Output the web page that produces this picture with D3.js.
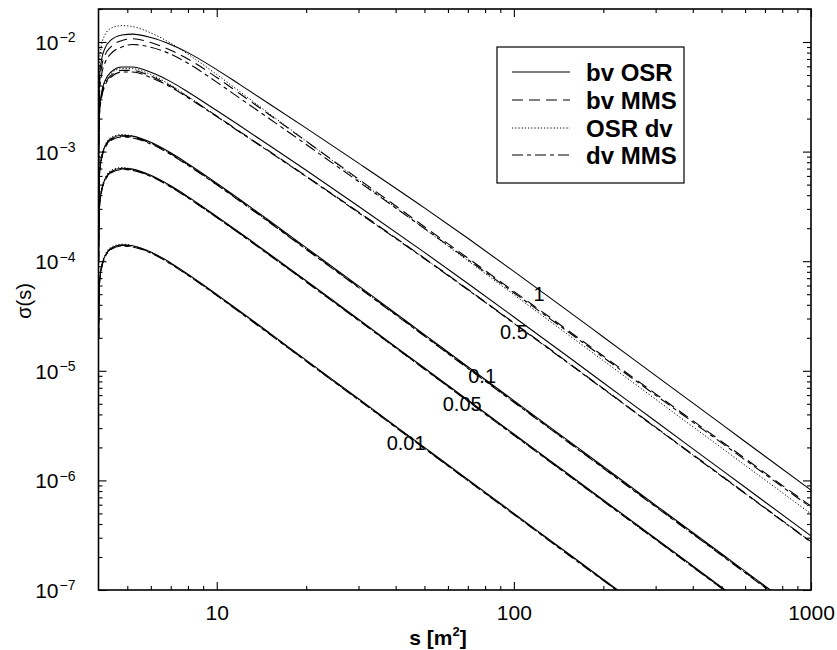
<!DOCTYPE html>
<html>
<head>
<meta charset="utf-8">
<script src="https://cdn.jsdelivr.net/npm/d3@7"></script>
<style>
  html, body { margin: 0; padding: 0; background: #fff; }
  svg { display: block; font-family: "Liberation Sans", Arial, Helvetica, sans-serif; }
</style>
</head>
<body>
<svg id="chart" width="837" height="650"></svg>
<script>
// ---------------- DATA ----------------
const sValues = [4.005, 4.03, 4.1, 4.2, 4.4, 4.8, 5.2, 6, 7, 8, 10, 12, 15, 20, 30, 50, 70, 100, 150, 200, 300, 500, 700, 1000];

const models = ["bv OSR", "bv MMS", "OSR dv", "dv MMS"];
const groupLabels = ["1", "0.5", "0.1", "0.05", "0.01"];

// group "1"
const g1_bvOSR = [1.6e-3, 4.8e-3, 7.0e-3, 8.7e-3, 1.04e-2, 1.16e-2, 1.18e-2, 1.1e-2, 9.5e-3, 8.0e-3, 5.6e-3, 4.063e-3, 2.737e-3, 1.636e-3, 7.85e-4, 3.067e-4, 1.618e-4, 8.07e-5, 3.617e-5, 2.035e-5, 9.04e-6, 3.26e-6, 1.662e-6, 8.15e-7];
const g1_bvMMS = [1.3e-3, 4.0e-3, 6.0e-3, 7.5e-3, 9.0e-3, 1.03e-2, 1.07e-2, 9.9e-3, 8.4e-3, 7.0e-3, 4.75e-3, 3.35e-3, 2.18e-3, 1.245e-3, 5.62e-4, 2.065e-4, 1.068e-4, 5.31e-5, 2.4e-5, 1.365e-5, 6.16e-6, 2.265e-6, 1.17e-6, 5.83e-7];
const g1_OSRdv = [2.2e-3, 6.5e-3, 9.5e-3, 1.15e-2, 1.33e-2, 1.41e-2, 1.385e-2, 1.21e-2, 9.75e-3, 7.75e-3, 5.05e-3, 3.5e-3, 2.23e-3, 1.248e-3, 5.5e-4, 1.98e-4, 1.01e-4, 4.95e-5, 2.2e-5, 1.238e-5, 5.5e-6, 1.98e-6, 1.01e-6, 4.95e-7];
const g1_dvMMS = [1.1e-3, 3.4e-3, 5.1e-3, 6.4e-3, 7.8e-3, 9.0e-3, 9.5e-3, 8.95e-3, 7.75e-3, 6.4e-3, 4.3e-3, 3.05e-3, 2.005e-3, 1.161e-3, 5.33e-4, 1.988e-4, 1.035e-4, 5.16e-5, 2.33e-5, 1.326e-5, 5.99e-6, 2.2e-6, 1.138e-6, 5.66e-7];

// group "0.5"
const g05_bvOSR = [8e-4, 2.4e-3, 3.5e-3, 4.4e-3, 5.3e-3, 5.92e-3, 5.92e-3, 5.3e-3, 4.35e-3, 3.5e-3, 2.37e-3, 1.71e-3, 1.142e-3, 6.75e-4, 3.17e-4, 1.204e-4, 6.26e-5, 3.1e-5, 1.385e-5, 7.79e-6, 3.46e-6, 1.247e-6, 6.36e-7, 3.12e-7];
const g05_bvMMS = [7.44e-4, 2.23e-3, 3.26e-3, 4.09e-3, 4.93e-3, 5.51e-3, 5.51e-3, 4.88e-3, 3.96e-3, 3.15e-3, 2.11e-3, 1.513e-3, 1.011e-3, 5.97e-4, 2.81e-4, 1.066e-4, 5.54e-5, 2.74e-5, 1.226e-5, 6.89e-6, 3.06e-6, 1.104e-6, 5.63e-7, 2.76e-7];
const g05_OSRdv = [7.76e-4, 2.33e-3, 3.4e-3, 4.27e-3, 5.14e-3, 5.74e-3, 5.71e-3, 5.04e-3, 4.05e-3, 3.19e-3, 2.11e-3, 1.505e-3, 1.005e-3, 5.94e-4, 2.79e-4, 1.06e-4, 5.51e-5, 2.73e-5, 1.219e-5, 6.86e-6, 3.04e-6, 1.097e-6, 5.6e-7, 2.75e-7];
const g05_dvMMS = [7.2e-4, 2.16e-3, 3.15e-3, 3.96e-3, 4.77e-3, 5.33e-3, 5.33e-3, 4.74e-3, 3.87e-3, 3.1e-3, 2.086e-3, 1.496e-3, 9.99e-4, 5.91e-4, 2.77e-4, 1.054e-4, 5.48e-5, 2.71e-5, 1.212e-5, 6.82e-6, 3.03e-6, 1.091e-6, 5.57e-7, 2.73e-7];

// group "0.1"
const g01_bvOSR = [2.0e-4, 6.3e-4, 9.0e-4, 1.1e-3, 1.31e-3, 1.41e-3, 1.383e-3, 1.216e-3, 9.75e-4, 7.76e-4, 5.15e-4, 3.64e-4, 2.35e-4, 1.33e-4, 5.95e-5, 2.14e-5, 1.09e-5, 5.35e-6, 2.38e-6, 1.34e-6, 5.95e-7, 2.14e-7, 1.09e-7, 5.35e-8];
const g01_bvMMS = [1.96e-4, 6.17e-4, 8.82e-4, 1.078e-3, 1.284e-3, 1.382e-3, 1.355e-3, 1.192e-3, 9.56e-4, 7.6e-4, 5.05e-4, 3.57e-4, 2.3e-4, 1.3e-4, 5.83e-5, 2.1e-5, 1.07e-5, 5.24e-6, 2.33e-6, 1.31e-6, 5.83e-7, 2.1e-7, 1.07e-7, 5.24e-8];
const g01_OSRdv = [2.1e-4, 6.55e-4, 9.3e-4, 1.135e-3, 1.345e-3, 1.43e-3, 1.39e-3, 1.205e-3, 9.56e-4, 7.56e-4, 5.0e-4, 3.53e-4, 2.28e-4, 1.29e-4, 5.77e-5, 2.08e-5, 1.057e-5, 5.19e-6, 2.31e-6, 1.3e-6, 5.77e-7, 2.08e-7, 1.057e-7, 5.19e-8];
const g01_dvMMS = [1.93e-4, 6.08e-4, 8.69e-4, 1.062e-3, 1.264e-3, 1.36e-3, 1.335e-3, 1.173e-3, 9.41e-4, 7.49e-4, 4.97e-4, 3.51e-4, 2.27e-4, 1.28e-4, 5.74e-5, 2.07e-5, 1.052e-5, 5.16e-6, 2.3e-6, 1.29e-6, 5.74e-7, 2.07e-7, 1.052e-7, 5.16e-8];

// group "0.05"
const g005_bvOSR = [1.0e-4, 3.15e-4, 4.5e-4, 5.5e-4, 6.55e-4, 7.05e-4, 6.92e-4, 6.08e-4, 4.87e-4, 3.88e-4, 2.56e-4, 1.81e-4, 1.17e-4, 6.63e-5, 2.95e-5, 1.06e-5, 5.41e-6, 2.65e-6, 1.18e-6, 6.63e-7, 2.95e-7, 1.06e-7, 5.41e-8, 2.65e-8];
const g005_bvMMS = [9.85e-5, 3.1e-4, 4.43e-4, 5.42e-4, 6.45e-4, 6.94e-4, 6.82e-4, 5.99e-4, 4.8e-4, 3.82e-4, 2.52e-4, 1.78e-4, 1.15e-4, 6.53e-5, 2.91e-5, 1.044e-5, 5.33e-6, 2.61e-6, 1.16e-6, 6.53e-7, 2.91e-7, 1.044e-7, 5.33e-8, 2.61e-8];
const g005_OSRdv = [1.04e-4, 3.25e-4, 4.64e-4, 5.66e-4, 6.72e-4, 7.15e-4, 6.92e-4, 6.0e-4, 4.78e-4, 3.8e-4, 2.5e-4, 1.77e-4, 1.145e-4, 6.5e-5, 2.89e-5, 1.04e-5, 5.3e-6, 2.6e-6, 1.156e-6, 6.5e-7, 2.89e-7, 1.04e-7, 5.3e-8, 2.6e-8];
const g005_dvMMS = [9.75e-5, 3.07e-4, 4.39e-4, 5.36e-4, 6.39e-4, 6.87e-4, 6.75e-4, 5.93e-4, 4.75e-4, 3.78e-4, 2.5e-4, 1.765e-4, 1.14e-4, 6.46e-5, 2.88e-5, 1.034e-5, 5.27e-6, 2.58e-6, 1.15e-6, 6.46e-7, 2.88e-7, 1.034e-7, 5.27e-8, 2.58e-8];

// group "0.01"
const g001_bvOSR = [2.0e-5, 6.3e-5, 9.0e-5, 1.1e-4, 1.31e-4, 1.41e-4, 1.383e-4, 1.216e-4, 9.65e-5, 7.61e-5, 4.98e-5, 3.48e-5, 2.23e-5, 1.25e-5, 5.56e-6, 2.0e-6, 1.02e-6, 5.0e-7, 2.22e-7, 1.25e-7, 5.56e-8, 2.0e-8, 1.02e-8, 5.0e-9];
const g001_bvMMS = [1.97e-5, 6.2e-5, 8.87e-5, 1.08e-4, 1.29e-4, 1.39e-4, 1.362e-4, 1.198e-4, 9.5e-5, 7.5e-5, 4.9e-5, 3.43e-5, 2.2e-5, 1.23e-5, 5.48e-6, 1.97e-6, 1.0e-6, 4.93e-7, 2.19e-7, 1.23e-7, 5.48e-8, 1.97e-8, 1.0e-8, 4.93e-9];
const g001_OSRdv = [2.1e-5, 6.5e-5, 9.3e-5, 1.13e-4, 1.34e-4, 1.43e-4, 1.39e-4, 1.2e-4, 9.48e-5, 7.46e-5, 4.88e-5, 3.41e-5, 2.19e-5, 1.225e-5, 5.45e-6, 1.96e-6, 1.0e-6, 4.9e-7, 2.18e-7, 1.225e-7, 5.45e-8, 1.96e-8, 1.0e-8, 4.9e-9];
const g001_dvMMS = [1.95e-5, 6.15e-5, 8.78e-5, 1.07e-4, 1.28e-4, 1.375e-4, 1.348e-4, 1.186e-4, 9.41e-5, 7.42e-5, 4.86e-5, 3.39e-5, 2.17e-5, 1.22e-5, 5.42e-6, 1.95e-6, 9.95e-7, 4.88e-7, 2.16e-7, 1.22e-7, 5.42e-8, 1.95e-8, 9.95e-9, 4.88e-9];

const xMajorTicks = [10, 100, 1000];
const xMinorTicks = [5, 6, 7, 8, 9, 20, 30, 40, 50, 60, 70, 80, 90, 200, 300, 400, 500, 600, 700, 800, 900];
const yMajorExps = [-7, -6, -5, -4, -3, -2];

// curve label positions in data space (s, sigma)
const curveLabelS = [121.6, 100, 78.2, 67.0, 43.4];
const curveLabelSig = [5.02e-5, 2.26e-5, 8.97e-6, 4.98e-6, 2.19e-6];

// ---------------- CHART ----------------
const svg = d3.select("#chart");
const X0 = 98.5, X1 = 811, Y0 = 9, Y1 = 590;
const FONT = "'Liberation Sans', Arial, Helvetica, sans-serif";

const x = d3.scaleLog().domain([4, 1000]).range([X0, X1]);
const y = d3.scaleLog().domain([1e-7, 0.02]).range([Y1, Y0]);

const styles = {
  "bv OSR": { dash: null },
  "bv MMS": { dash: "11,6" },
  "OSR dv": { dash: "1.2,2" },
  "dv MMS": { dash: "11,4,4,4" }
};

const groups = [
  [g1_bvOSR, g1_bvMMS, g1_OSRdv, g1_dvMMS],
  [g05_bvOSR, g05_bvMMS, g05_OSRdv, g05_dvMMS],
  [g01_bvOSR, g01_bvMMS, g01_OSRdv, g01_dvMMS],
  [g005_bvOSR, g005_bvMMS, g005_OSRdv, g005_dvMMS],
  [g001_bvOSR, g001_bvMMS, g001_OSRdv, g001_dvMMS]
];

svg.append("defs").append("clipPath").attr("id", "plotclip")
  .append("rect").attr("x", X0).attr("y", Y0).attr("width", X1 - X0).attr("height", Y1 - Y0);

const line = d3.line()
  .x(d => x(d[0]))
  .y(d => y(d[1]))
  .curve(d3.curveMonotoneX);

const plot = svg.append("g").attr("clip-path", "url(#plotclip)");
const drawOrder = [2, 1, 3, 0];
groups.forEach(grp => {
  drawOrder.forEach(mi => {
    const pts = sValues.map((s, i) => [s, grp[mi][i]]);
    plot.append("path")
      .attr("d", line(pts))
      .attr("fill", "none")
      .attr("stroke", "#000")
      .attr("stroke-width", mi === 2 ? 1.0 : 1.1)
      .attr("stroke-dasharray", styles[models[mi]].dash);
  });
});

// Axes (ticks inward)
function styleAxis(g) {
  g.select(".domain").remove();
  g.selectAll(".tick line").attr("stroke", "#000").attr("stroke-width", 1.1);
}

svg.append("g").attr("transform", `translate(0,${Y1})`)
  .call(d3.axisBottom(x).tickValues(xMinorTicks).tickSize(-4).tickFormat(""))
  .call(styleAxis);
svg.append("g").attr("transform", `translate(0,${Y1})`)
  .call(d3.axisBottom(x).tickValues(xMajorTicks).tickSize(-8).tickPadding(15).tickFormat(d3.format("d")))
  .call(styleAxis)
  .call(g => g.selectAll("text").attr("font-size", 21).attr("fill", "#000").attr("font-family", FONT));

svg.append("g").attr("transform", `translate(0,${Y0})`)
  .call(d3.axisTop(x).tickValues(xMinorTicks).tickSize(-4).tickFormat(""))
  .call(styleAxis);
svg.append("g").attr("transform", `translate(0,${Y0})`)
  .call(d3.axisTop(x).tickValues(xMajorTicks).tickSize(-8).tickFormat(""))
  .call(styleAxis);

const yMinor = [];
yMajorExps.forEach(e => { for (let k = 2; k <= 9; k++) { const v = k * Math.pow(10, e); if (v <= 0.02) yMinor.push(v); } });
const yMajor = yMajorExps.map(e => Math.pow(10, e));

svg.append("g").attr("transform", `translate(${X0},0)`)
  .call(d3.axisLeft(y).tickValues(yMinor).tickSize(-4).tickFormat(""))
  .call(styleAxis);
const yl = svg.append("g").attr("transform", `translate(${X0},0)`)
  .call(d3.axisLeft(y).tickValues(yMajor).tickSize(-8).tickPadding(23).tickFormat(""))
  .call(styleAxis);
yl.selectAll(".tick").each(function(d) {
  const t = d3.select(this).select("text");
  t.text(null).attr("font-size", 21).attr("fill", "#000").attr("dy", "0.36em").attr("font-family", FONT);
  t.append("tspan").text("10");
  t.append("tspan").attr("font-size", 14).attr("dy", "-0.55em").attr("dx", "1")
    .text("\u2212" + Math.abs(Math.round(Math.log10(d))));
});

svg.append("g").attr("transform", `translate(${X1},0)`)
  .call(d3.axisRight(y).tickValues(yMinor).tickSize(-4).tickFormat(""))
  .call(styleAxis);
svg.append("g").attr("transform", `translate(${X1},0)`)
  .call(d3.axisRight(y).tickValues(yMajor).tickSize(-8).tickFormat(""))
  .call(styleAxis);

// frame
svg.append("rect").attr("x", X0).attr("y", Y0).attr("width", X1 - X0).attr("height", Y1 - Y0)
  .attr("fill", "none").attr("stroke", "#000").attr("stroke-width", 1.6);

// curve labels
groupLabels.forEach((lab, i) => {
  svg.append("text")
    .attr("x", x(curveLabelS[i])).attr("y", y(curveLabelSig[i]))
    .attr("text-anchor", "middle")
    .attr("dy", "0.36em")
    .attr("font-size", 20)
    .attr("fill", "#000")
    .text(lab);
});

// axis titles
const xt = svg.append("text").attr("x", 438).attr("y", 645).attr("text-anchor", "middle")
  .attr("font-size", 21).attr("font-weight", "bold").attr("fill", "#000");
xt.append("tspan").text("s [m");
xt.append("tspan").attr("font-size", 13).attr("dy", "-0.7em").text("2");
xt.append("tspan").attr("dy", "0.45em").text("]");

svg.append("text").attr("transform", "translate(31,301) rotate(-90)")
  .attr("text-anchor", "middle").attr("font-size", 20).attr("fill", "#000")
  .text("\u03c3(s)");

// legend
const LX = 497, LY = 47, LW = 187, LH = 136;
const leg = svg.append("g");
leg.append("rect").attr("x", LX).attr("y", LY).attr("width", LW).attr("height", LH)
  .attr("fill", "#fff").attr("stroke", "#000").attr("stroke-width", 1.2);
const rowY = [72, 100, 128, 155];
models.forEach((m, i) => {
  leg.append("line").attr("x1", 512).attr("x2", 570).attr("y1", rowY[i]).attr("y2", rowY[i])
    .attr("stroke", "#000").attr("stroke-width", i === 2 ? 1.0 : 1.1)
    .attr("stroke-dasharray", styles[m].dash);
  leg.append("text").attr("x", 586).attr("y", rowY[i]).attr("dy", "0.36em")
    .attr("font-size", 24).attr("font-weight", "bold").attr("fill", "#000").text(m);
});
</script>
</body>
</html>
